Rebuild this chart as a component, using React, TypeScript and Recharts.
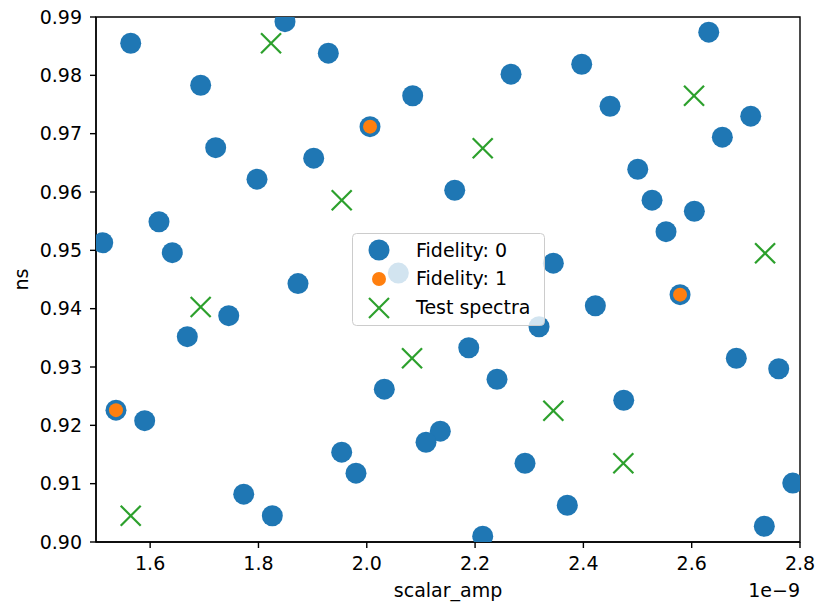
import React from 'react';
import { ScatterChart, Scatter, XAxis, YAxis, Legend, ReferenceArea } from 'recharts';

// scalar_amp values are in units of 1e-9
const xTicks = [1.6, 1.8, 2.0, 2.2, 2.4, 2.6, 2.8];
const yTicks = [0.9, 0.91, 0.92, 0.93, 0.94, 0.95, 0.96, 0.97, 0.98, 0.99];

const fidelity0Amp = [
  1.5124, 1.5641, 1.6163, 1.6409, 1.6933, 1.721, 1.7973, 1.849, 1.929, 1.902,
  1.873, 2.0848, 2.0583, 2.1624, 2.2664, 2.3969, 2.4492, 2.6315, 2.5004, 2.5268,
  2.5526, 2.6049, 2.6566, 2.709, 2.3445, 2.4221, 2.3181, 2.1883, 2.2405, 2.0324,
  2.1358, 2.1094, 1.9537, 1.9801, 2.2922, 2.3703, 2.2141, 2.4745, 2.6824, 2.7607,
  2.7866, 2.7341, 1.6686, 1.7451, 1.5899, 1.7728, 1.8256, 1.5369, 2.006, 2.5785,
];
const fidelity0Ns = [
  0.9513, 0.9855, 0.9549, 0.9496, 0.9783, 0.9676, 0.9622, 0.9892, 0.9838, 0.9658,
  0.9443, 0.9765, 0.9461, 0.9603, 0.9802, 0.9819, 0.9747, 0.9874, 0.9639, 0.9586,
  0.9532, 0.9567, 0.9694, 0.973, 0.9478, 0.9405, 0.9369, 0.9333, 0.9279, 0.9262,
  0.919, 0.9171, 0.9154, 0.9118, 0.9135, 0.9063, 0.901, 0.9243, 0.9315, 0.9297,
  0.9101, 0.9027, 0.9352, 0.9388, 0.9208, 0.9082, 0.9045, 0.9226, 0.9712, 0.9424,
];

const fidelity1Amp = [1.5369, 2.006, 2.5785];
const fidelity1Ns = [0.9226, 0.9712, 0.9424];

const testAmp = [1.8232, 1.6933, 1.5641, 1.9537, 2.0836, 2.2141, 2.3445, 2.4738, 2.6043, 2.7355];
const testNs = [0.9855, 0.9403, 0.9045, 0.9586, 0.9315, 0.9675, 0.9225, 0.9135, 0.9765, 0.9495];

const legendLabels = ['Fidelity: 0', 'Fidelity: 1', 'Test spectra'];

const BLUE = '#1f77b4';
const ORANGE = '#ff7f0e';
const GREEN = '#2ca02c';
const FONT = 'DejaVu Sans';

const toPoints = (xs: number[], ys: number[]) => xs.map((x, i) => ({ x, y: ys[i] }));
const fid0 = toPoints(fidelity0Amp, fidelity0Ns);
const fid1 = toPoints(fidelity1Amp, fidelity1Ns);
const test = toPoints(testAmp, testNs);

const BlueDot = (p: any) => <circle cx={p.cx} cy={p.cy} r={10.5} fill={BLUE} />;
const OrangeDot = (p: any) => <circle cx={p.cx} cy={p.cy} r={7} fill={ORANGE} />;
const Cross = (p: any) => {
  const s = 10;
  return (
    <g stroke={GREEN} strokeWidth={2.2}>
      <line x1={p.cx - s} y1={p.cy - s} x2={p.cx + s} y2={p.cy + s} />
      <line x1={p.cx - s} y1={p.cy + s} x2={p.cx + s} y2={p.cy - s} />
    </g>
  );
};

const LegendBox = () => {
  const w = 193;
  const h = 93;
  const rows = [23.5, 52, 80.5];
  const cx = 27;
  const cy = [17, 46, 75];
  return (
    <svg width={w} height={h} style={{ display: 'block' }}>
      <rect x={0.5} y={0.5} width={w - 1} height={h - 1} rx={4} ry={4}
        fill="#ffffff" fillOpacity={0.8} stroke="#cccccc" strokeWidth={1} />
      <circle cx={cx} cy={cy[0]} r={10.5} fill={BLUE} />
      <circle cx={cx} cy={cy[1]} r={7} fill={ORANGE} />
      <g stroke={GREEN} strokeWidth={2.2}>
        <line x1={cx - 10} y1={cy[2] - 10} x2={cx + 10} y2={cy[2] + 10} />
        <line x1={cx - 10} y1={cy[2] + 10} x2={cx + 10} y2={cy[2] - 10} />
      </g>
      {legendLabels.map((t, i) => (
        <text key={t} x={64} y={rows[i]} fontFamily={FONT} fontSize={19} fill="#000">{t}</text>
      ))}
    </svg>
  );
};

const XLabel = (props: any) => {
  const vb = props.viewBox || {};
  return (
    <g fontFamily={FONT} fontSize={19} fill="#000">
      <text x={vb.x + vb.width / 2} y={597} textAnchor="middle">scalar_amp</text>
      <text x={vb.x + vb.width} y={597} textAnchor="end">1e−9</text>
    </g>
  );
};

const YLabel = (props: any) => {
  const vb = props.viewBox || {};
  const y = vb.y + vb.height / 2;
  return (
    <text x={28} y={y} transform={`rotate(-90, 28, ${y})`} textAnchor="middle"
      fontFamily={FONT} fontSize={19} fill="#000">ns</text>
  );
};

export default function App() {
  const tickStyle = { fontSize: 19, fontFamily: FONT, fill: '#000' };
  return (
    <div style={{ position: 'absolute', left: 0, top: 0, background: '#fff' }}>
      <ScatterChart width={817} height={603} margin={{ top: 17, right: 17, bottom: 0, left: 0 }}>
        <XAxis
          type="number"
          dataKey="x"
          domain={[1.5, 2.8]}
          ticks={xTicks}
          allowDataOverflow
          height={61}
          tick={tickStyle}
          tickSize={6}
          tickMargin={9}
          tickFormatter={(v: number) => v.toFixed(1)}
          axisLine={{ stroke: '#000', strokeWidth: 1.4 }}
          tickLine={{ stroke: '#000', strokeWidth: 1.4 }}
          label={<XLabel />}
        />
        <YAxis
          type="number"
          dataKey="y"
          domain={[0.9, 0.99]}
          ticks={yTicks}
          allowDataOverflow
          width={96}
          tick={tickStyle}
          tickSize={6}
          tickMargin={8}
          tickFormatter={(v: number) => v.toFixed(2)}
          axisLine={{ stroke: '#000', strokeWidth: 1.4 }}
          tickLine={{ stroke: '#000', strokeWidth: 1.4 }}
          label={<YLabel />}
        />
        <Scatter data={fid0} shape={BlueDot} isAnimationActive={false} />
        <Scatter data={fid1} shape={OrangeDot} isAnimationActive={false} />
        <Scatter data={test} shape={Cross} isAnimationActive={false} />
        <ReferenceArea x1={1.5} x2={2.8} y1={0.9} y2={0.99} fill="none" fillOpacity={0}
          stroke="#000" strokeWidth={1.4} />
        <Legend
          layout="vertical"
          align="center"
          verticalAlign="middle"
          content={<LegendBox />}
          wrapperStyle={{ position: 'absolute', left: 352, top: 233, width: 193, height: 93, margin: 0, padding: 0 }}
        />
      </ScatterChart>
    </div>
  );
}
